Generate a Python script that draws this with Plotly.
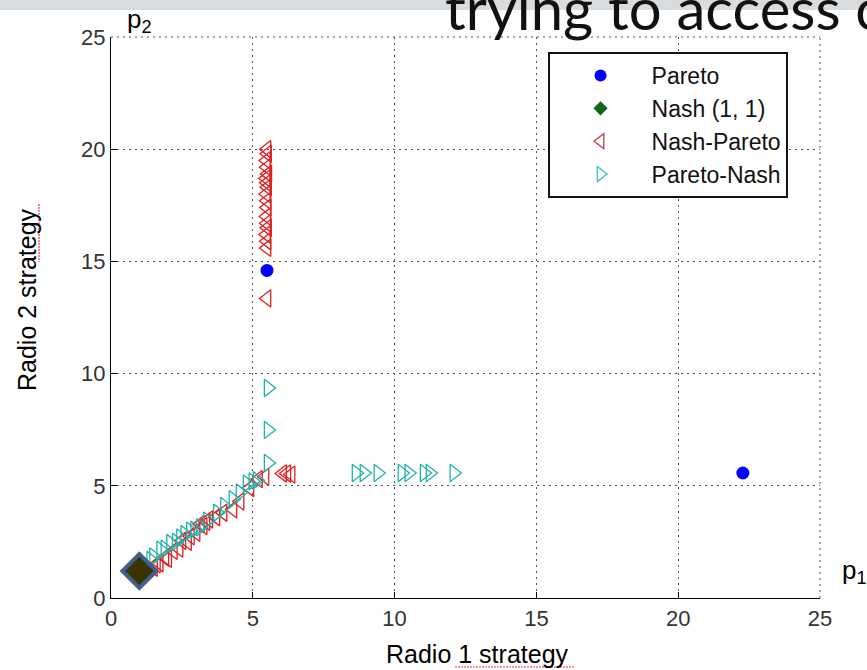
import plotly.graph_objects as go

# ---------------- data ----------------
pareto_x = [5.5, 22.28]
pareto_y = [14.6, 5.57]

nash_x = [1.0]
nash_y = [1.2]

nash_pareto_x = [5.5, 5.52, 5.48, 5.5, 5.53, 5.47, 5.5, 5.52, 5.48, 5.5, 5.51, 5.49, 5.5, 5.52, 5.48, 5.5, 5.5, 5.5,
                 6.05, 6.2, 6.35, 5.43,
                 1.5, 1.6, 1.7, 1.9, 2.0, 2.2, 2.4, 2.5, 2.7, 2.8, 3.0, 3.15, 3.25, 3.35, 3.45, 3.7, 3.95, 4.3, 4.55, 4.9, 5.2]
nash_pareto_y = [20.0, 19.8, 19.5, 19.2, 18.9, 18.7, 18.5, 18.3, 18.0, 17.7, 17.4, 17.0, 16.7, 16.5, 16.2, 15.9, 15.6, 13.35,
                 5.55, 5.55, 5.5, 5.4,
                 1.35, 1.5, 1.55, 1.8, 1.75, 2.1, 2.2, 2.55, 2.5, 2.75, 2.9, 3.3, 3.2, 3.4, 3.5, 3.6, 3.8, 3.95, 4.3, 4.9, 5.3]

pareto_nash_x = [5.54, 5.54, 5.54,
                 8.64, 8.92, 9.41, 10.26, 10.5, 11.04, 11.25, 12.09,
                 1.4, 1.5, 1.75, 1.9, 2.1, 2.3, 2.45, 2.6, 2.8, 2.95, 3.15, 3.4, 3.75, 4.0, 4.3, 4.55, 4.8, 5.0, 5.15]
pareto_nash_y = [9.36, 7.49, 6.02,
                 5.57, 5.57, 5.57, 5.57, 5.57, 5.57, 5.57, 5.57,
                 1.7, 1.85, 2.15, 2.2, 2.45, 2.5, 2.7, 2.85, 3.0, 3.05, 3.15, 3.45, 3.8, 4.1, 4.4, 4.7, 5.1, 5.2, 5.25]

legend_names = ["Pareto", "Nash (1, 1)", "Nash-Pareto", "Pareto-Nash"]
x_ticks = [0, 5, 10, 15, 20, 25]
y_ticks = [0, 5, 10, 15, 20, 25]

RED = "#e0201f"
CYAN = "#1fb3ad"
BLUE = "#0000ff"

fig = go.Figure()

# plotted marks
fig.add_trace(go.Scatter(x=nash_pareto_x, y=nash_pareto_y, mode="markers", showlegend=False,
                         marker=dict(symbol="triangle-left-open", size=15, color=RED, line=dict(width=1.3, color=RED))))
fig.add_trace(go.Scatter(x=pareto_nash_x, y=pareto_nash_y, mode="markers", showlegend=False,
                         marker=dict(symbol="triangle-right-open", size=15, color=CYAN, line=dict(width=1.3, color=CYAN))))
fig.add_trace(go.Scatter(x=pareto_x, y=pareto_y, mode="markers", showlegend=False,
                         marker=dict(symbol="circle", size=13, color=BLUE, line=dict(width=0))))
fig.add_trace(go.Scatter(x=nash_x, y=nash_y, mode="markers", showlegend=False,
                         marker=dict(symbol="diamond", size=26, color="#3b3300", line=dict(width=4, color="#3f5f8e"))))

# legend entries
leg_styles = [
    dict(symbol="circle", size=12, color=BLUE, line=dict(width=0)),
    dict(symbol="diamond", size=11, color="#13651a", line=dict(width=0)),
    dict(symbol="triangle-left-open", size=13, color="#c0404e", line=dict(width=1.3, color="#c0404e")),
    dict(symbol="triangle-right-open", size=13, color="#3fc0bd", line=dict(width=1.3, color="#3fc0bd")),
]
for i, (nm, st) in enumerate(zip(legend_names, leg_styles)):
    fig.add_trace(go.Scatter(x=[None], y=[None], mode="markers", name=nm, marker=st,
                             legendgroup="g%d" % i, showlegend=True))

axis_common = dict(
    showgrid=True, gridcolor="#555555", gridwidth=1, griddash="2px,4px",
    showline=True, linecolor="#000000", linewidth=1.2,
    ticks="inside", ticklen=6, tickcolor="#000000", tickwidth=1,
    zeroline=False, mirror=False,
    tickfont=dict(family="Liberation Sans, Arial", size=22, color="#333333"),
)
fig.update_xaxes(range=[0, 25], tickvals=x_ticks, ticktext=[str(v) for v in x_ticks], **axis_common)
fig.update_yaxes(range=[0, 25], tickvals=y_ticks, ticktext=[str(v) for v in y_ticks], **axis_common)

fig.update_layout(
    width=867, height=670,
    margin=dict(l=111, r=47, t=37, b=72, pad=0),
    plot_bgcolor="white", paper_bgcolor="white",
    font=dict(family="Liberation Sans, Arial", color="#000000"),
    legend=dict(x=0.616, y=0.973, xanchor="left", yanchor="top",
                bgcolor="white", bordercolor="#111111", borderwidth=1.8,
                font=dict(family="Liberation Sans, Arial", size=23, color="#111111"),
                itemwidth=92, tracegroupgap=0, traceorder="normal"),
)

# dotted top/right border (grid at range ends)
fig.add_shape(type="line", xref="paper", yref="paper", x0=0, x1=1, y0=1, y1=1,
              line=dict(color="#555555", width=1, dash="2px,4px"))
fig.add_shape(type="line", xref="paper", yref="paper", x0=1, x1=1, y0=0, y1=1,
              line=dict(color="#555555", width=1, dash="2px,4px"))

# slide header band
fig.add_shape(type="rect", xref="paper", yref="paper", x0=-0.2, x1=1.1, y0=(598 - 10) / 561, y1=1.2,
              fillcolor="#d9dcdf", line=dict(width=0), layer="below")

ann = []
ann.append(dict(text="trying to access c", xref="paper", yref="paper", x=(443 - 111) / 709, y=(598 - 44) / 561,
                xanchor="left", yanchor="bottom", showarrow=False,
                font=dict(family="Lato, Open Sans", size=58, color="#111111")))
ann.append(dict(text="p<sub>2</sub>", xref="paper", yref="paper", x=(125 - 111) / 709, y=(598 - 20) / 561,
                xanchor="left", yanchor="middle", showarrow=False,
                font=dict(family="Liberation Sans, Arial", size=26, color="#000000")))
ann.append(dict(text="p<sub>1</sub>", xref="paper", yref="paper", x=(840 - 111) / 709, y=(598 - 571) / 561,
                xanchor="left", yanchor="middle", showarrow=False,
                font=dict(family="Liberation Sans, Arial", size=26, color="#000000")))
ann.append(dict(text="Radio 1 strategy", xref="paper", yref="paper", x=(477 - 111) / 709, y=(598 - 654) / 561,
                xanchor="center", yanchor="middle", showarrow=False,
                font=dict(family="Liberation Sans, Arial", size=25, color="#000000")))
ann.append(dict(text="Radio 2 strategy", xref="paper", yref="paper", x=(27 - 111) / 709, y=(598 - 300) / 561,
                xanchor="center", yanchor="middle", showarrow=False, textangle=-90,
                font=dict(family="Liberation Sans, Arial", size=25, color="#000000")))
fig.update_layout(annotations=ann)

# spell-check squiggles under "strategy"
fig.add_shape(type="line", xref="paper", yref="paper", x0=(455 - 111) / 709, x1=(574 - 111) / 709,
              y0=(598 - 667) / 561, y1=(598 - 667) / 561, line=dict(color="#ee3333", width=1.2, dash="2px,1px"))
fig.add_shape(type="line", xref="paper", yref="paper", x0=(39 - 111) / 709, x1=(39 - 111) / 709,
              y0=(598 - 204) / 561, y1=(598 - 262) / 561, line=dict(color="#ee3333", width=1.2, dash="2px,1px"))

fig.write_html("out.html")
